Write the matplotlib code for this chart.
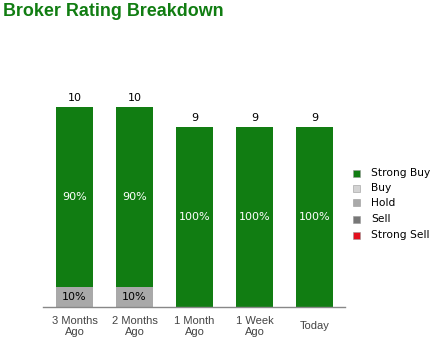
import matplotlib
matplotlib.use("Agg")
import matplotlib.pyplot as plt
from matplotlib.patches import Rectangle
import numpy as np

categories = ["3 Months\nAgo", "2 Months\nAgo", "1 Month\nAgo", "1 Week\nAgo", "Today"]
ratings = ["Strong Buy", "Buy", "Hold", "Sell", "Strong Sell"]
colors = ["#117D12", "#D3D3D3", "#A9A9A9", "#777777", "#E3101E"]
strong_buy = [9, 9, 9, 9, 9]
buy = [0, 0, 0, 0, 0]
hold = [1, 1, 0, 0, 0]
sell = [0, 0, 0, 0, 0]
strong_sell = [0, 0, 0, 0, 0]
series = [strong_buy, buy, hold, sell, strong_sell]

W, H = 439, 342
fig = plt.figure(figsize=(W / 100, H / 100), dpi=100)
ax = fig.add_axes([43 / W, 35 / H, 302 / W, 240 / H])

x = np.arange(len(categories))
totals = np.sum(series, axis=0)
# stack from bottom: strong sell, sell, hold, buy, strong buy
bottom = np.zeros(len(categories))
for vals, col in list(zip(series, colors))[::-1]:
    vals = np.array(vals, dtype=float)
    ax.bar(x, vals, width=0.62, bottom=bottom, color=col, linewidth=0)
    for i, v in enumerate(vals):
        if v > 0:
            pct = round(100 * v / totals[i])
            tc = "white" if col in ("#117D12", "#777777", "#E3101E") else "black"
            ax.text(x[i], bottom[i] + v / 2, f"{pct}%", ha="center", va="center",
                    color=tc, fontsize=8, family="DejaVu Sans")
    bottom += vals

for i, t in enumerate(totals):
    ax.text(x[i], t + 0.22, str(t), ha="center", va="bottom", fontsize=8,
            family="DejaVu Sans", color="black")

ax.set_xlim(-0.525, 4.51)
ax.set_ylim(0, 12)
for s in ["top", "right", "left"]:
    ax.spines[s].set_visible(False)
ax.spines["bottom"].set_color("#888888")
ax.spines["bottom"].set_linewidth(1)
ax.set_yticks([])
ax.set_xticks(x)
ax.set_xticklabels(categories, fontsize=8, color="#444444", family="Liberation Sans",
                   linespacing=1.05)
ax.tick_params(axis="x", length=0, pad=14)
for lbl in ax.get_xticklabels():
    lbl.set_verticalalignment("center")

fig.text(3 / W, 1 - 11 / H, "Broker Rating Breakdown", fontsize=12.9, fontweight="bold",
         color="#117D12", family="Liberation Sans", va="center", ha="left")

ys = [173, 188, 203, 219, 235]
for name, col, yy in zip(ratings, colors, ys):
    fig.patches.append(Rectangle(((353) / W, 1 - (yy + 3.5) / H), 7 / W, 7 / H,
                                 transform=fig.transFigure, facecolor=col,
                                 edgecolor="#999999", linewidth=0.4))
    fig.text(371 / W, 1 - yy / H, name, fontsize=7.7, family="DejaVu Sans",
             va="center", ha="left", color="black")

fig.savefig("out.png", dpi=100)
